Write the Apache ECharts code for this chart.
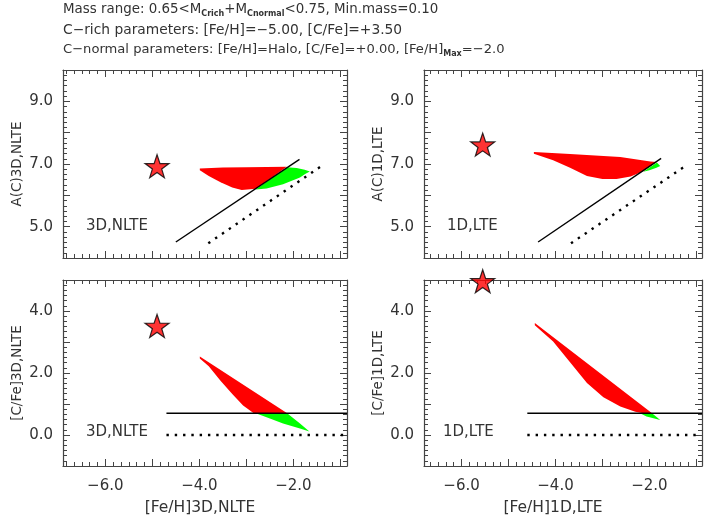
<!DOCTYPE html>
<html>
<head>
<meta charset="utf-8">
<script src="https://cdn.jsdelivr.net/npm/echarts@6/dist/echarts.min.js"></script>
<style>
  html, body { margin: 0; padding: 0; background: #fff; }
  #chart { width: 708px; height: 517px; }
</style>
</head>
<body>
<div id="chart"></div>
<script>
// tick labels
var feTickLabels = [-6, -4, -2]
var acTickLabels = [5, 7, 9]
var cfeTickLabels = [0, 2, 4]

// model clouds, outlines as [Fe/H, value]
var redAC3D = [[-3.99, 6.86], [-3.5, 6.89], [-3.0, 6.9], [-2.14, 6.91], [-2.8, 6.21], [-3.1, 6.17], [-3.3, 6.25], [-3.55, 6.42], [-3.8, 6.62], [-3.99, 6.8]]
var greenAC3D = [[-2.14, 6.9], [-1.93, 6.87], [-1.76, 6.82], [-1.65, 6.76], [-1.75, 6.68], [-1.86, 6.57], [-2.22, 6.35], [-2.57, 6.22], [-2.8, 6.19]]
var redAC1D = [[-4.46, 7.38], [-3.69, 7.32], [-2.62, 7.22], [-1.98, 7.08], [-1.84, 7.06], [-2.13, 6.77], [-2.4, 6.6], [-2.7, 6.52], [-3.0, 6.52], [-3.33, 6.62], [-3.69, 6.88], [-4.05, 7.12], [-4.46, 7.33]]
var greenAC1D = [[-1.84, 7.05], [-1.77, 6.94], [-1.85, 6.88], [-2.0, 6.8], [-2.13, 6.75]]
var redCFe3D = [[-3.99, 2.53], [-2.14, 0.71], [-2.85, 0.71], [-3.07, 0.95], [-3.3, 1.32], [-3.55, 1.75], [-3.8, 2.22], [-3.99, 2.47]]
var greenCFe3D = [[-2.14, 0.71], [-1.98, 0.52], [-1.86, 0.37], [-1.66, 0.11], [-1.86, 0.21], [-2.22, 0.37], [-2.5, 0.53], [-2.8, 0.7]]
var redCFe1D = [[-4.44, 3.61], [-1.95, 0.71], [-2.16, 0.71], [-2.3, 0.75], [-2.62, 0.92], [-2.98, 1.22], [-3.33, 1.68], [-3.69, 2.35], [-4.05, 3.02], [-4.44, 3.54]]
var greenCFe1D = [[-1.95, 0.71], [-1.77, 0.48], [-2.06, 0.6], [-2.2, 0.7]]

// limit lines
var cutAC3D = [[-4.5, 4.51], [-1.87, 7.15]]
var dotAC3D = [[-3.81, 4.47], [-1.36, 6.98]]
var cutAC1D = [[-4.37, 4.51], [-1.75, 7.18]]
var dotAC1D = [[-3.67, 4.47], [-1.19, 6.98]]
var cutCFe3D = [[-4.7, 0.7], [-0.86, 0.7]]
var dotCFe3D = [[-4.7, 0.0], [-0.9, 0.0]]
var cutCFe1D = [[-4.6, 0.7], [-0.88, 0.7]]
var dotCFe1D = [[-4.6, 0.0], [-0.9, 0.0]]

// observed star
var starAC3D = [-4.9, 6.93]
var starAC1D = [-5.55, 7.62]
var starCFe3D = [-4.9, 3.52]
var starCFe1D = [-5.55, 4.96]

var FONT = 'DejaVu Sans'
var INK = '#333'
var STAR = 'path://M50,0 L61.8,35.1 L98.1,35.1 L68.8,56.8 L79.4,91 L50,70.5 L20.6,91 L31.2,56.8 L1.9,35.1 L38.2,35.1 Z'

var panels = [
  { grid: { left: 63, top: 70, width: 284, height: 188 }, x: [-6.9, -0.86], y: [4, 10], yLabels: acTickLabels, xLabels: null,
    yName: 'A(C)3D,NLTE', xName: '', namePad: 0, red: redAC3D, green: greenAC3D, cut: cutAC3D, dot: dotAC3D, star: starAC3D, tag: '3D,NLTE', tagPos: [86, 219] },
  { grid: { left: 424, top: 70, width: 278, height: 188 }, x: [-6.8, -0.88], y: [4, 10], yLabels: acTickLabels, xLabels: null,
    yName: 'A(C)1D,LTE', xName: '', namePad: 0, red: redAC1D, green: greenAC1D, cut: cutAC1D, dot: dotAC1D, star: starAC1D, tag: '1D,LTE', tagPos: [447, 219] },
  { grid: { left: 63, top: 280, width: 284, height: 187 }, x: [-6.9, -0.86], y: [-1, 5], yLabels: cfeTickLabels, xLabels: feTickLabels,
    yName: '[C/Fe]3D,NLTE', xName: '[Fe/H]3D,NLTE', namePad: 10, red: redCFe3D, green: greenCFe3D, cut: cutCFe3D, dot: dotCFe3D, star: starCFe3D, tag: '3D,NLTE', tagPos: [86, 425] },
  { grid: { left: 424, top: 280, width: 278, height: 187 }, x: [-6.8, -0.88], y: [-1, 5], yLabels: cfeTickLabels, xLabels: feTickLabels,
    yName: '[C/Fe]1D,LTE', xName: '[Fe/H]1D,LTE', namePad: 20, red: redCFe1D, green: greenCFe1D, cut: cutCFe1D, dot: dotCFe1D, star: starCFe1D, tag: '1D,LTE', tagPos: [443, 425] }
]

function fmt(v) {
  return (v < 0 ? '\u2212' : '') + Math.abs(v).toFixed(1)
}

// tick positions, every 1/6 (minor) or every 1 (major)
function ticks(min, max, per) {
  var out = []
  for (var k = Math.ceil(min * per - 1e-6); k <= Math.floor(max * per + 1e-6); k++) {
    out.push(k / per)
  }
  return out
}

function axis(kind, g, pos, range, major, labels, name, gap, pad) {
  var a = {
    type: 'value',
    gridIndex: g,
    position: pos,
    min: range[0],
    max: range[1],
    splitLine: { show: false },
    axisLine: { show: major, onZero: false, lineStyle: { color: '#444', width: 1.2 } },
    axisTick: {
      inside: true,
      length: major ? 7 : 4,
      customValues: ticks(range[0], range[1], major ? 1 : 6),
      lineStyle: { color: '#444', width: 1 }
    },
    axisLabel: { show: false }
  }
  if (labels) {
    a.axisLabel = {
      show: true,
      customValues: labels,
      formatter: fmt,
      margin: kind === 'x' ? 13 : 10,
      fontFamily: FONT,
      fontSize: 15,
      color: INK
    }
  }
  if (name) {
    a.name = name
    a.nameLocation = 'middle'
    a.nameGap = gap
    a.nameTextStyle = { fontFamily: FONT, fontSize: kind === 'x' ? 15.5 : 13.5, color: INK, padding: [0, pad || 0, 0, 0] }
  }
  return a
}

var grids = [], xAxes = [], yAxes = [], series = [], texts = []

panels.forEach(function (p, g) {
  grids.push(p.grid)
  var xi = xAxes.length, yi = yAxes.length
  xAxes.push(axis('x', g, 'bottom', p.x, true, p.xLabels, p.xName, 34, p.namePad))
  xAxes.push(axis('x', g, 'bottom', p.x, false, null, '', 0))
  xAxes.push(axis('x', g, 'top', p.x, true, null, '', 0))
  xAxes.push(axis('x', g, 'top', p.x, false, null, '', 0))
  yAxes.push(axis('y', g, 'left', p.y, true, p.yLabels, p.yName, 39))
  yAxes.push(axis('y', g, 'left', p.y, false, null, '', 0))
  yAxes.push(axis('y', g, 'right', p.y, true, null, '', 0))
  yAxes.push(axis('y', g, 'right', p.y, false, null, '', 0))

  ;[[p.red, '#ff0000'], [p.green, '#00ff00']].forEach(function (c) {
    var pts = c[0]
    series.push({
      type: 'custom',
      xAxisIndex: xi,
      yAxisIndex: yi,
      data: pts,
      silent: true,
      renderItem: function (params, api) {
        if (params.dataIndex !== 0) return
        return {
          type: 'polygon',
          shape: { points: pts.map(function (d) { return api.coord(d) }) },
          style: { fill: c[1] }
        }
      }
    })
  })

  series.push({
    type: 'line', xAxisIndex: xi, yAxisIndex: yi, data: p.cut, symbol: 'none',
    lineStyle: { color: '#000', width: 1.4 }
  })
  series.push({
    type: 'line', xAxisIndex: xi, yAxisIndex: yi, data: p.dot, symbol: 'none',
    lineStyle: { color: '#000', width: 2.4, type: [2.4, 5.9] }
  })
  series.push({
    type: 'scatter', xAxisIndex: xi, yAxisIndex: yi, data: [p.star], clip: false,
    symbol: STAR, symbolSize: [24, 23],
    itemStyle: { color: '#ff0000', borderColor: '#000', borderWidth: 1.2 }
  })

  texts.push({
    type: 'text', left: p.tagPos[0], top: p.tagPos[1],
    style: { text: p.tag, fontFamily: FONT, fontSize: 15, fill: INK }
  })
})

function titleStyle(size) {
  return {
    fontFamily: FONT, fontSize: size, fontWeight: 'normal', color: INK,
    rich: { s: { fontFamily: FONT, fontSize: 8, fontWeight: 'bold', color: INK, verticalAlign: 'bottom', padding: [0, 0, -2, 0] } }
  }
}

var chart = echarts.init(document.getElementById('chart'))
chart.setOption({
  animation: false,
  backgroundColor: '#fff',
  title: [
    { text: 'Mass range: 0.65<M{s|Crich}+M{s|Cnormal}<0.75, Min.mass=0.10', left: 58, top: -2, textStyle: titleStyle(13.4) },
    { text: 'C\u2212rich parameters: [Fe/H]=\u22125.00, [C/Fe]=+3.50', left: 58, top: 18, textStyle: titleStyle(13.8) },
    { text: 'C\u2212normal parameters: [Fe/H]=Halo, [C/Fe]=+0.00, [Fe/H]{s|Max}=\u22122.0', left: 58, top: 38, textStyle: titleStyle(13.1) }
  ],
  grid: grids,
  xAxis: xAxes,
  yAxis: yAxes,
  series: series,
  graphic: texts
})
</script>
</body>
</html>
